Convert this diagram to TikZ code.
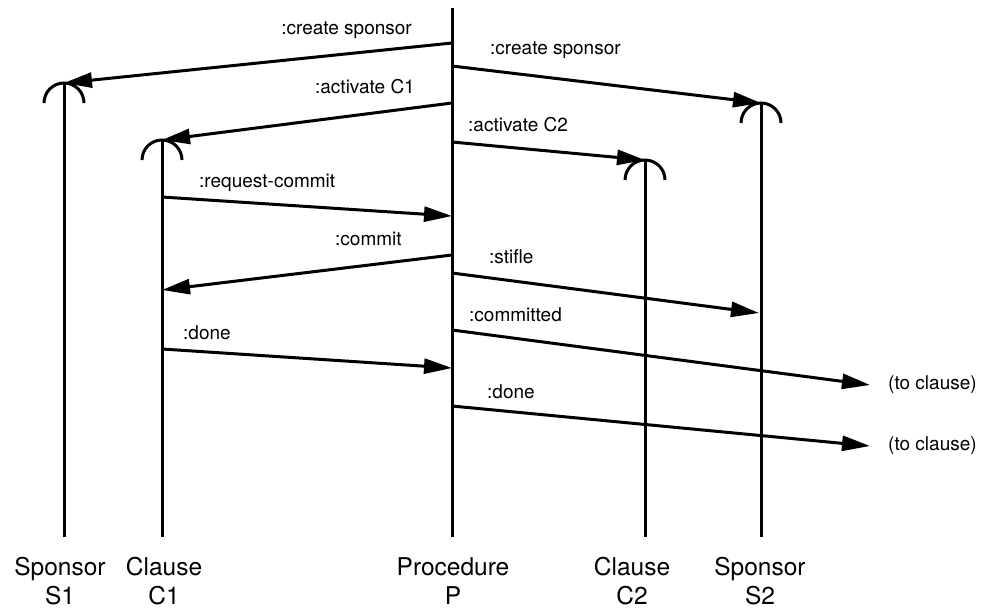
\documentclass[tikz,border=0pt]{standalone}
\usepackage{fontspec}
\setmainfont{TeX Gyre Heros}
\usetikzlibrary{arrows.meta}
\tikzset{
  life/.style={line width=3pt},
  msg/.style={line width=3pt,-{Triangle[length=28pt,width=15pt]}},
  lbl/.style={font=\fontsize{19}{22}\selectfont,inner sep=0pt},
  who/.style={font=\fontsize{24.5}{29}\selectfont,align=center,inner sep=0pt},
}
\begin{document}
\begin{tikzpicture}[x=1pt,y=-1pt]
\useasboundingbox (0,0) rectangle (984,608);
% lifeline tops and bottoms
\coordinate (S1t) at (64,83);   \coordinate (S1b) at (64,537);
\coordinate (C1t) at (162,140); \coordinate (C1b) at (162,537);
\coordinate (Pt)  at (452,8);   \coordinate (Pb)  at (452,537);
\coordinate (C2t) at (645,160); \coordinate (C2b) at (645,537);
\coordinate (S2t) at (761,103); \coordinate (S2b) at (761,537);
% lifelines with arcs
\foreach \l in {S1,C1,C2,S2}{
  \draw[life] (\l t) -- (\l b);
  \draw[life] (\l t) ++(-20,20) arc[start angle=180,end angle=360,radius=20];
}
\draw[life] (Pt) -- (Pb);
% names
\node[who] (nS1) at (60,581) {Sponsor\\S1};
\node[who] (nC1) at (164,581) {Clause\\C1};
\node[who] (nP)  at (453,581) {Procedure\\P};
\node[who] (nC2) at (632,581) {Clause\\C2};
\node[who] (nS2) at (760,581) {Sponsor\\S2};
% message end points
\coordinate (p1) at (452,43);
\coordinate (p2) at (452,66);
\coordinate (p3) at (452,103);
\coordinate (p4) at (452,142);
\coordinate (c5) at (162,197); \coordinate (p5) at (452,216);
\coordinate (p6) at (452,255); \coordinate (c6) at (162,290);
\coordinate (p7) at (452,273); \coordinate (s7) at (759,313);
\coordinate (p8) at (452,330); \coordinate (e8) at (870,385);
\coordinate (c9) at (162,349); \coordinate (p9) at (452,368);
\coordinate (p10) at (452,406); \coordinate (e10) at (870,446);
% messages
\draw[msg] (p1) -- (S1t);
\draw[msg] (p2) -- (S2t);
\draw[msg] (p3) -- (C1t);
\draw[msg] (p4) -- (C2t);
\draw[msg] (c5) -- (p5);
\draw[msg] (p6) -- (c6);
\draw[msg] (p7) -- (s7);
\draw[msg] (p8) -- (e8);
\draw[msg] (c9) -- (p9);
\draw[msg] (p10) -- (e10);
% labels
\node[lbl,anchor=east] (l1) at (412,30) {:create sponsor};
\node[lbl,anchor=west] (l2) at (490,50) {:create sponsor};
\node[lbl,anchor=east] (l3) at (415,87) {:activate C1};
\node[lbl,anchor=west] (l4) at (468,125) {:activate C2};
\node[lbl,anchor=west] (l5) at (199,183) {:request-commit};
\node[lbl,anchor=west] (l6) at (335,239) {:commit};
\node[lbl,anchor=west] (l7) at (489,257) {:stifle};
\node[lbl,anchor=west] (l8) at (469,315) {:committed};
\node[lbl,anchor=west] (l9) at (183,333) {:done};
\node[lbl,anchor=west] (l10) at (487,392) {:done};
\node[lbl,anchor=west] (t1) at (888,385) {(to clause)};
\node[lbl,anchor=west] (t2) at (888,446) {(to clause)};
\end{tikzpicture}
\end{document}
